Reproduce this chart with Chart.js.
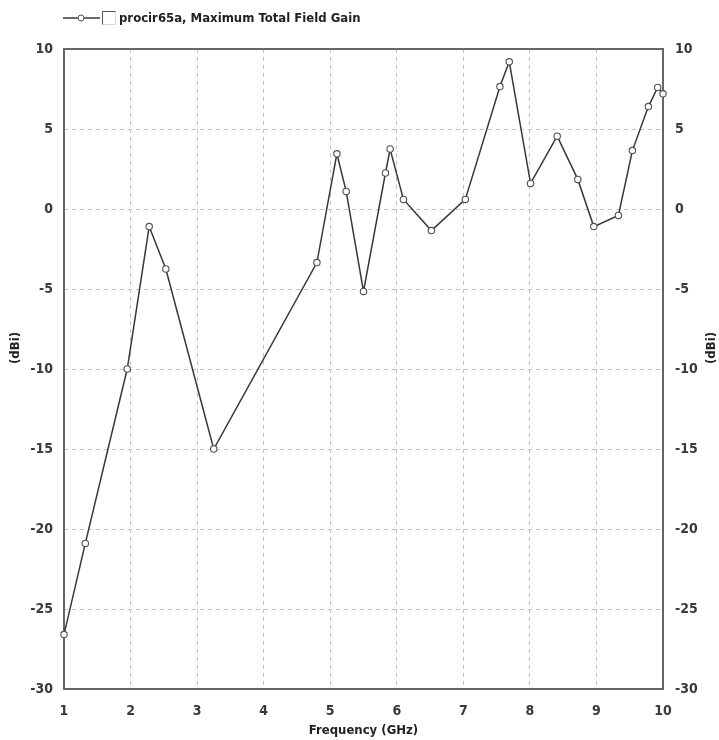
<!DOCTYPE html>
<html>
<head>
<meta charset="utf-8">
<script src="https://cdn.jsdelivr.net/npm/chart.js@4/dist/chart.umd.min.js"></script>
<style>
  html, body { margin: 0; padding: 0; background: #fff; }
  #c { display: block; }
</style>
</head>
<body>
<canvas id="c" width="719" height="740"></canvas>
<script>
// Maximum total field gain of the procir65a antenna over frequency
const seriesName = 'procir65a, Maximum Total Field Gain';
const xTitle = 'Frequency (GHz)';
const yTitle = '(dBi)';

const freqGHz = [1.00, 1.32, 1.95, 2.28, 2.53, 3.25, 4.80, 5.10, 5.24, 5.50, 5.83, 5.90, 6.10,
                 6.52, 7.03, 7.55, 7.69, 8.01, 8.41, 8.72, 8.96, 9.33, 9.54, 9.78, 9.92, 10.00];
const gainDBi = [-26.6, -20.9, -10.0, -1.1, -3.75, -15.0, -3.35, 3.45, 1.1, -5.15, 2.25, 3.75, 0.6,
                 -1.35, 0.6, 7.65, 9.2, 1.6, 4.55, 1.85, -1.1, -0.4, 3.65, 6.4, 7.6, 7.2];

const xTickValues = [1, 2, 3, 4, 5, 6, 7, 8, 9, 10];
const yTickValues = [10, 5, 0, -5, -10, -15, -20, -25, -30];

const FONT_FAMILY = '"Liberation Sans Narrow", "Arial Narrow", "DejaVu Sans Condensed", sans-serif';
const TEXT_COLOR = '#3a3a3a';
const LINE_COLOR = '#383838';
const MARKER_COLOR = '#505050';
const FRAME_COLOR = '#666666';
const GRID_COLOR = '#c2c2c2';

const tickFont = { family: FONT_FAMILY, size: 14, weight: 'bold' };
const titleFont = { family: FONT_FAMILY, size: 13, weight: 'bold' };

// Solid box round the plotting area
const framePlugin = {
  id: 'plotFrame',
  beforeDatasetsDraw(chart) {
    const { ctx, chartArea: a } = chart;
    ctx.save();
    ctx.strokeStyle = FRAME_COLOR;
    ctx.lineWidth = 2;
    ctx.strokeRect(a.left, a.top, a.right - a.left, a.bottom - a.top);
    ctx.restore();
  }
};

// Legend row: line sample with marker, a check box, then the series name
const legendPlugin = {
  id: 'seriesLegend',
  afterDraw(chart) {
    const { ctx } = chart;
    const ds = chart.data.datasets[0];
    const y = 18;
    ctx.save();
    ctx.strokeStyle = ds.borderColor;
    ctx.lineWidth = 1.5;
    ctx.beginPath();
    ctx.moveTo(63, y);
    ctx.lineTo(100, y);
    ctx.stroke();
    ctx.beginPath();
    ctx.arc(81, y, 3, 0, Math.PI * 2);
    ctx.fillStyle = '#fff';
    ctx.fill();
    ctx.lineWidth = 1;
    ctx.strokeStyle = ds.pointBorderColor;
    ctx.stroke();
    // check box with a sunken edge
    const bx = 102.5, by = 11.5, bs = 13;
    ctx.strokeStyle = '#d8d8d8';
    ctx.strokeRect(bx, by, bs, bs);
    ctx.strokeStyle = '#555';
    ctx.beginPath();
    ctx.moveTo(bx, by + bs);
    ctx.lineTo(bx, by);
    ctx.lineTo(bx + bs, by);
    ctx.stroke();
    ctx.font = `bold 13px ${FONT_FAMILY}`;
    ctx.fillStyle = '#222';
    ctx.textBaseline = 'middle';
    ctx.textAlign = 'left';
    ctx.fillText(ds.label, 119, y + 1);
    ctx.restore();
  }
};

// Vertical titles for the left and right value axes
const yTitlePlugin = {
  id: 'sideTitles',
  afterDraw(chart) {
    const { ctx } = chart;
    ctx.save();
    ctx.font = `bold 13px ${FONT_FAMILY}`;
    ctx.fillStyle = '#222';
    ctx.textAlign = 'center';
    ctx.textBaseline = 'middle';
    [16, 712].forEach(x => {
      ctx.save();
      ctx.translate(x, 348);
      ctx.rotate(-Math.PI / 2);
      ctx.fillText(yTitle, 0, 0);
      ctx.restore();
    });
    ctx.restore();
  }
};

const yAxisCommon = {
  type: 'linear',
  min: yTickValues[yTickValues.length - 1],
  max: yTickValues[0],
  afterBuildTicks(axis) { axis.ticks = yTickValues.map(v => ({ value: v })); },
  grid: { color: GRID_COLOR, lineWidth: 1, drawTicks: false },
  border: { display: false, dash: [4, 4] },
  ticks: { font: tickFont, color: TEXT_COLOR }
};

new Chart(document.getElementById('c'), {
  type: 'scatter',
  data: {
    datasets: [{
      label: seriesName,
      data: freqGHz.map((f, i) => ({ x: f, y: gainDBi[i] })),
      showLine: true,
      borderColor: LINE_COLOR,
      borderWidth: 1.5,
      pointRadius: 3.2,
      pointHoverRadius: 3.2,
      pointBorderWidth: 1.1,
      pointBorderColor: MARKER_COLOR,
      pointBackgroundColor: '#ffffff',
      tension: 0,
      clip: false
    }]
  },
  options: {
    responsive: false,
    animation: false,
    layout: { padding: { top: 49, left: 0, right: 0, bottom: 0 } },
    plugins: {
      legend: { display: false },
      tooltip: { enabled: false }
    },
    scales: {
      x: {
        type: 'linear',
        position: 'bottom',
        min: xTickValues[0],
        max: xTickValues[xTickValues.length - 1],
        afterBuildTicks(axis) { axis.ticks = xTickValues.map(v => ({ value: v })); },
        afterFit(axis) { axis.height = 51; },
        grid: { color: GRID_COLOR, lineWidth: 1, drawTicks: false },
        border: { display: false, dash: [4, 4] },
        ticks: { font: tickFont, color: TEXT_COLOR, padding: 14, maxRotation: 0 },
        title: {
          display: true,
          text: xTitle,
          font: titleFont,
          color: '#222',
          padding: { top: 0, bottom: 2 }
        }
      },
      y: Object.assign({}, yAxisCommon, {
        position: 'left',
        afterFit(axis) { axis.width = 64; },
        ticks: Object.assign({}, yAxisCommon.ticks, { padding: 11 })
      }),
      y2: Object.assign({}, yAxisCommon, {
        position: 'right',
        afterFit(axis) { axis.width = 56; },
        grid: { display: false, drawTicks: false },
        ticks: Object.assign({}, yAxisCommon.ticks, { padding: 12 })
      })
    }
  },
  plugins: [framePlugin, legendPlugin, yTitlePlugin]
});
</script>
</body>
</html>
